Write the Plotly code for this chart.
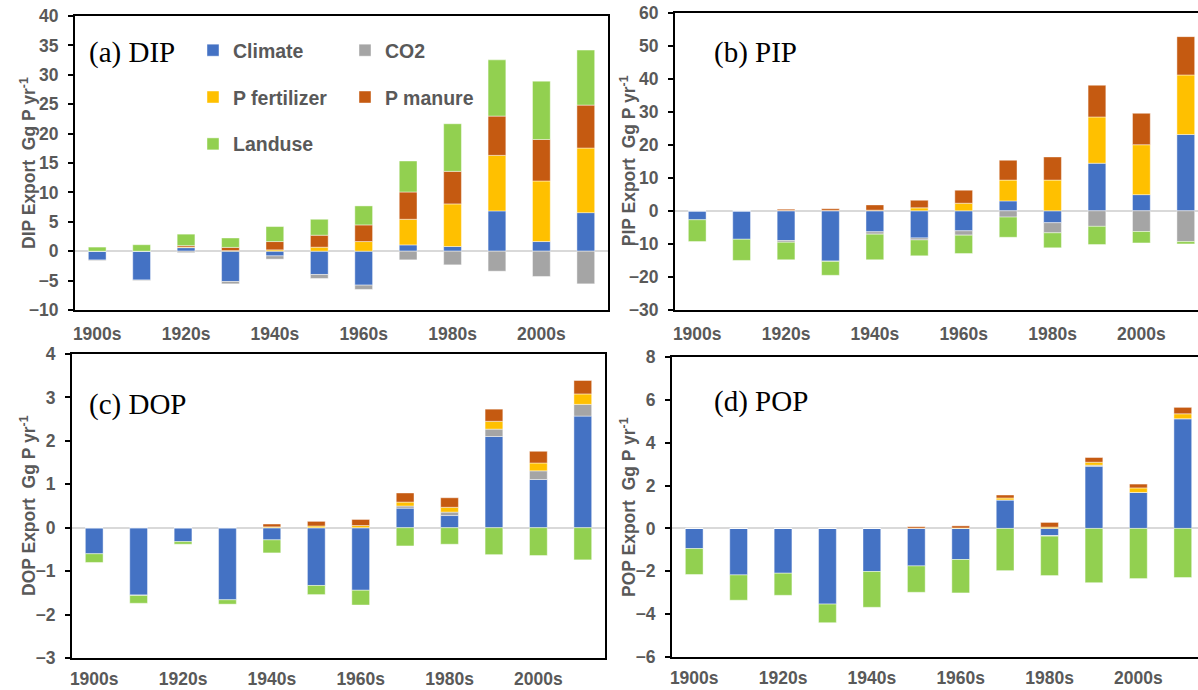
import plotly.graph_objects as go

decades = ["1900s", "1910s", "1920s", "1930s", "1940s", "1950s",
           "1960s", "1970s", "1980s", "1990s", "2000s", "2010s"]
tick_labels = ["1900s", "1920s", "1940s", "1960s", "1980s", "2000s"]

series_names = ["Climate", "CO2", "P fertilizer", "P manure", "Landuse"]
series_colors = ["#4472C4", "#A5A5A5", "#FFC000", "#C55A11", "#92D050"]

# (a) DIP export, Gg P/yr
dip_climate = [-1.5, -4.9, 0.6, -5.15, -0.8, -3.96, -5.77, 1.07, 0.8, 6.85, 1.64, 6.56]
dip_co2 = [-0.1, -0.1, -0.25, -0.4, -0.55, -0.68, -0.73, -1.47, -2.32, -3.4, -4.3, -5.55]
dip_fert = [0, 0, 0.1, 0.1, 0.23, 0.68, 1.64, 4.36, 7.24, 9.45, 10.3, 10.98]
dip_manure = [0, 0, 0.25, 0.55, 1.41, 2.04, 2.83, 4.64, 5.54, 6.68, 7.06, 7.31]
dip_landuse = [0.7, 1.1, 1.95, 1.6, 2.55, 2.71, 3.23, 5.27, 8.09, 9.56, 9.92, 9.35]

# (b) PIP export
pip_climate = [-2.7, -8.6, -9.0, -15.2, -6.35, -8.2, -6.05, 3.0, -3.6, 14.4, 4.9, 23.1]
pip_co2 = [0, 0, -0.5, -0.1, -0.7, -0.6, -1.3, -1.9, -3.05, -4.7, -6.25, -9.3]
pip_fert = [0, 0, 0.1, 0.1, 0.2, 0.9, 2.3, 6.3, 9.3, 14.0, 15.1, 18.0]
pip_manure = [0, 0, 0.4, 0.5, 1.6, 2.3, 3.95, 6.0, 7.0, 9.6, 9.5, 11.6]
pip_landuse = [-6.6, -6.4, -5.3, -4.2, -7.75, -4.8, -5.55, -6.1, -4.55, -5.5, -3.45, -0.7]

# (c) DOP export
dop_climate = [-0.6, -1.55, -0.32, -1.66, -0.28, -1.33, -1.44, 0.45, 0.28, 2.1, 1.11, 2.57]
dop_co2 = [0, -0.01, 0, 0, 0, 0, 0, 0.05, 0.08, 0.17, 0.2, 0.27]
dop_fert = [0, 0, 0, 0, 0.02, 0.04, 0.05, 0.09, 0.11, 0.18, 0.18, 0.24]
dop_manure = [0, 0, 0, 0, 0.065, 0.106, 0.14, 0.21, 0.22, 0.28, 0.27, 0.31]
dop_landuse = [-0.2, -0.18, -0.06, -0.1, -0.3, -0.21, -0.34, -0.42, -0.38, -0.62, -0.64, -0.74]

# (d) POP export
pop_climate = [-0.94, -2.17, -2.09, -3.53, -2.01, -1.75, -1.45, 1.33, -0.33, 2.9, 1.68, 5.12]
pop_co2 = [0, 0, 0, 0, 0, 0, 0, 0, -0.03, 0.05, 0, 0]
pop_fert = [0, 0, 0, 0, 0, 0.01, 0.02, 0.09, 0.06, 0.14, 0.21, 0.23]
pop_manure = [0, 0, 0, 0, 0, 0.07, 0.1, 0.14, 0.22, 0.22, 0.18, 0.3]
pop_landuse = [-1.21, -1.18, -1.03, -0.87, -1.67, -1.23, -1.56, -1.97, -1.84, -2.53, -2.34, -2.29]

panels = [
    dict(label="(a) DIP", ytitle="DIP Export\u00a0 Gg P yr<sup>-1</sup>",
         data=[dip_climate, dip_co2, dip_fert, dip_manure, dip_landuse],
         yrange=[-10, 40], dtick=5),
    dict(label="(b) PIP", ytitle="PIP Export\u00a0 Gg P yr<sup>-1</sup>",
         data=[pip_climate, pip_co2, pip_fert, pip_manure, pip_landuse],
         yrange=[-30, 60], dtick=10),
    dict(label="(c) DOP", ytitle="DOP Export\u00a0 Gg P yr<sup>-1</sup>",
         data=[dop_climate, dop_co2, dop_fert, dop_manure, dop_landuse],
         yrange=[-3, 4], dtick=1),
    dict(label="(d) POP", ytitle="POP Export\u00a0 Gg P yr<sup>-1</sup>",
         data=[pop_climate, pop_co2, pop_fert, pop_manure, pop_landuse],
         yrange=[-6, 8], dtick=2),
]

# figure fills the whole window (body margin removed in the page)
W, H = 1198, 690


def fx(px):
    return px / W


def fy(py):
    return 1 - py / H


# plot-area boxes in window pixels: left, right, top, bottom
boxes = [(75, 608, 16, 310), (675, 1198, 12.5, 310),
         (72, 605, 354, 658), (672, 1198, 357, 657)]
cat_px = (608 - 75) / 12.0
label_pos = [(87, 53), (712, 52), (87, 404), (712, 401)]
ytitle_x = [28, 628, 28, 628]
xlabel_standoff = [7, 7, 4, 4]

gray = "#595959"
tickfont = dict(family="Liberation Sans, Arial, sans-serif", size=17.5, color=gray, weight="bold")
titlefont = dict(family="Liberation Sans, Arial, sans-serif", size=17.5, color=gray, weight="bold")

fig = go.Figure()
legend_of = ["legend", "legend2", "legend", "legend2", "legend"]

for i, p in enumerate(panels):
    xa = "x" if i == 0 else f"x{i+1}"
    ya = "y" if i == 0 else f"y{i+1}"
    for k, name in enumerate(series_names):
        fig.add_trace(go.Bar(
            x=decades, y=p["data"][k], name=name,
            marker=dict(color=series_colors[k],
                        line=dict(color="rgba(255,255,255,0.55)", width=0.8)),
            xaxis=xa, yaxis=ya,
            showlegend=(i == 0), legend=legend_of[k], legendgroup=name,
            hovertemplate=name + ": %{y}<extra></extra>",
        ))

    l, r, t, b = boxes[i]
    x_hi = -0.5 + (r - l) / cat_px
    right_col = i in (1, 3)
    xkey = "xaxis" if i == 0 else f"xaxis{i+1}"
    ykey = "yaxis" if i == 0 else f"yaxis{i+1}"
    fig.update_layout(**{
        xkey: dict(
            domain=[fx(l), min(1.0, fx(r))], anchor=ya,
            type="category", categoryorder="array", categoryarray=decades,
            range=[-0.5, x_hi], tickmode="array", tickvals=tick_labels, ticktext=tick_labels,
            showline=True, linecolor="black", linewidth=2, mirror=True,
            ticks="", ticklabelstandoff=xlabel_standoff[i], tickfont=tickfont,
            ticklabeloverflow="allow",
            showgrid=False, zeroline=False, automargin=False, fixedrange=True,
        ),
        ykey: dict(
            domain=[fy(b), fy(t)], anchor=xa,
            range=p["yrange"], dtick=p["dtick"], tick0=0,
            showline=True, linecolor="black", linewidth=2,
            mirror=(not right_col),
            ticks="outside", ticklen=5, tickwidth=1.5, tickcolor="black",
            ticklabelstandoff=6, tickfont=tickfont, ticklabeloverflow="allow",
            showgrid=False, zeroline=True, zerolinecolor="#D9D9D9", zerolinewidth=2,
            automargin=False, fixedrange=True,
        ),
    })
    # y-axis title
    fig.add_annotation(text=p["ytitle"], xref="paper", yref="paper",
                       x=fx(ytitle_x[i]), y=(fy(t) + fy(b)) / 2,
                       xanchor="center", yanchor="middle", textangle=-90,
                       showarrow=False, font=titlefont)
    # panel label
    lx, ly = label_pos[i]
    fig.add_annotation(text=p["label"], xref="paper", yref="paper",
                       x=fx(lx), y=fy(ly), xanchor="left", yanchor="middle",
                       showarrow=False,
                       font=dict(family="Liberation Serif, Times New Roman, serif",
                                 size=29, color="black"))

legend_font = dict(family="Liberation Sans, Arial, sans-serif", size=19.5, color=gray, weight="bold")
common_leg = dict(orientation="v", bgcolor="rgba(0,0,0,0)", borderwidth=0,
                  font=legend_font, tracegroupgap=18.5, traceorder="grouped",
                  xanchor="left", yanchor="top", itemclick=False, itemdoubleclick=False)

fig.update_layout(
    width=W, height=H,
    margin=dict(l=0, r=0, t=0, b=0),
    paper_bgcolor="white", plot_bgcolor="white",
    barmode="relative", bargap=0.6,
    legend=dict(x=fx(193), y=fy(31), **common_leg),
    legend2=dict(x=fx(345), y=fy(31), **common_leg),
    font=dict(family="Liberation Sans, Arial, sans-serif"),
)

fig.write_html(
    "out.html",
    config={"displayModeBar": False},
    post_script="document.body.style.margin='0px';document.body.style.overflow='hidden';",
)
